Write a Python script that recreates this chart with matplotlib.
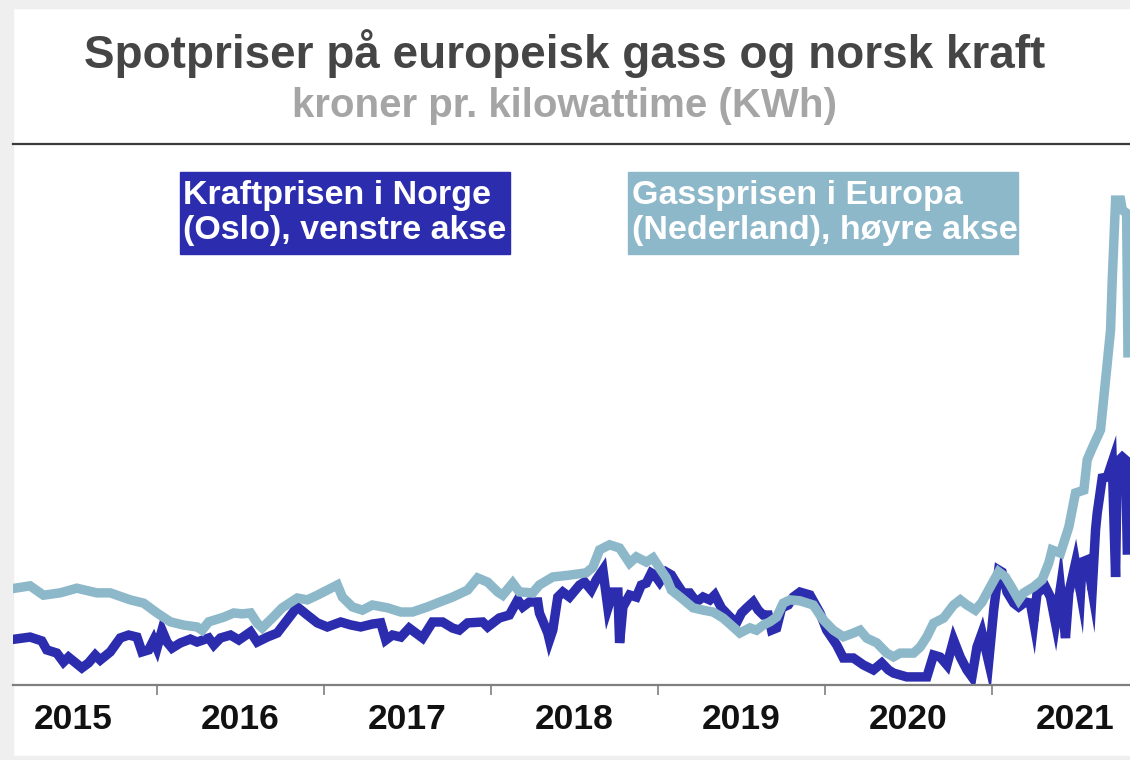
import matplotlib
matplotlib.use("Agg")
import matplotlib.pyplot as plt
from matplotlib.patches import Rectangle

plt.rcParams['font.family'] = ['Liberation Sans', 'DejaVu Sans']

# ---- data (decimal years, kroner per kWh) ----
power_t = [2015.15, 2015.24, 2015.31, 2015.34, 2015.40, 2015.44, 2015.47, 2015.55, 2015.59, 2015.63,
           2015.66, 2015.72, 2015.78, 2015.83, 2015.88, 2015.91, 2015.95, 2015.98, 2016.00, 2016.03,
           2016.06, 2016.09, 2016.14, 2016.20, 2016.24, 2016.31, 2016.34, 2016.38, 2016.44, 2016.49,
           2016.56, 2016.60, 2016.66, 2016.72, 2016.78, 2016.84, 2016.90, 2016.96, 2017.02, 2017.10,
           2017.16, 2017.22, 2017.29, 2017.34, 2017.37, 2017.41, 2017.46, 2017.51, 2017.59, 2017.65,
           2017.71, 2017.77, 2017.81, 2017.86, 2017.95, 2017.98, 2018.05, 2018.11, 2018.16, 2018.19,
           2018.23, 2018.28, 2018.29, 2018.34, 2018.35, 2018.37, 2018.40, 2018.43, 2018.47, 2018.53,
           2018.56, 2018.60, 2018.63, 2018.67, 2018.70, 2018.73, 2018.76, 2018.77, 2018.79, 2018.83,
           2018.87, 2018.90, 2018.93, 2018.96, 2018.98, 2019.01, 2019.05, 2019.08, 2019.11, 2019.15,
           2019.19, 2019.23, 2019.27, 2019.31, 2019.34, 2019.38, 2019.42, 2019.45, 2019.47, 2019.50,
           2019.53, 2019.57, 2019.60, 2019.63, 2019.66, 2019.68, 2019.71, 2019.74, 2019.78, 2019.81,
           2019.85, 2019.91, 2019.97, 2020.01, 2020.07, 2020.11, 2020.17, 2020.23, 2020.29, 2020.34,
           2020.38, 2020.41, 2020.49, 2020.57, 2020.61, 2020.65, 2020.69, 2020.73, 2020.77, 2020.81,
           2020.85, 2020.88, 2020.91, 2020.94, 2020.98, 2021.01, 2021.04, 2021.06, 2021.09, 2021.13,
           2021.16, 2021.20, 2021.23, 2021.25, 2021.27, 2021.32, 2021.35, 2021.38, 2021.41, 2021.44,
           2021.46, 2021.50, 2021.53, 2021.54, 2021.57, 2021.60, 2021.62, 2021.63, 2021.66, 2021.69,
           2021.72, 2021.74, 2021.75, 2021.78, 2021.80, 2021.81]
power_oslo = [0.204, 0.213, 0.196, 0.156, 0.142, 0.102, 0.124, 0.076, 0.098, 0.133,
              0.111, 0.147, 0.209, 0.222, 0.213, 0.147, 0.156, 0.200, 0.164, 0.244,
              0.191, 0.164, 0.187, 0.204, 0.191, 0.209, 0.178, 0.209, 0.222, 0.200,
              0.236, 0.191, 0.213, 0.231, 0.289, 0.347, 0.311, 0.276, 0.258, 0.280,
              0.267, 0.258, 0.271, 0.276, 0.200, 0.222, 0.213, 0.253, 0.209, 0.280,
              0.280, 0.253, 0.244, 0.276, 0.280, 0.258, 0.298, 0.311, 0.378, 0.347,
              0.369, 0.369, 0.320, 0.231, 0.200, 0.244, 0.391, 0.413, 0.391, 0.444,
              0.458, 0.422, 0.467, 0.511, 0.342, 0.413, 0.413, 0.187, 0.347, 0.400,
              0.391, 0.444, 0.453, 0.498, 0.489, 0.458, 0.502, 0.489, 0.453, 0.409,
              0.409, 0.369, 0.391, 0.378, 0.400, 0.342, 0.311, 0.289, 0.276, 0.320,
              0.342, 0.369, 0.333, 0.311, 0.311, 0.244, 0.253, 0.342, 0.356, 0.391,
              0.413, 0.400, 0.320, 0.244, 0.178, 0.120, 0.120, 0.089, 0.067, 0.098,
              0.067, 0.053, 0.036, 0.036, 0.036, 0.133, 0.124, 0.089, 0.200, 0.124,
              0.067, 0.036, 0.169, 0.231, 0.102, 0.333, 0.511, 0.502, 0.413, 0.364,
              0.347, 0.369, 0.364, 0.280, 0.409, 0.436, 0.391, 0.276, 0.431, 0.209,
              0.409, 0.542, 0.413, 0.547, 0.556, 0.422, 0.689, 0.764, 0.920, 0.924,
              0.991, 0.480, 0.991, 1.013, 1.000, 0.600]

gas_t = [2015.15, 2015.24, 2015.32, 2015.42, 2015.52, 2015.64, 2015.72, 2015.84, 2015.92, 2016.00,
         2016.08, 2016.16, 2016.24, 2016.27, 2016.31, 2016.40, 2016.46, 2016.51, 2016.56, 2016.60,
         2016.63, 2016.69, 2016.75, 2016.84, 2016.90, 2016.96, 2017.02, 2017.08, 2017.11, 2017.17,
         2017.23, 2017.29, 2017.38, 2017.46, 2017.53, 2017.62, 2017.69, 2017.77, 2017.86, 2017.92,
         2017.98, 2018.04, 2018.07, 2018.13, 2018.17, 2018.25, 2018.29, 2018.37, 2018.47, 2018.57,
         2018.61, 2018.65, 2018.71, 2018.77, 2018.83, 2018.87, 2018.93, 2018.97, 2019.01, 2019.05,
         2019.08, 2019.14, 2019.21, 2019.27, 2019.33, 2019.39, 2019.45, 2019.49, 2019.55, 2019.59,
         2019.63, 2019.67, 2019.71, 2019.75, 2019.79, 2019.85, 2019.93, 2019.99, 2020.05, 2020.11,
         2020.17, 2020.21, 2020.25, 2020.31, 2020.37, 2020.41, 2020.45, 2020.53, 2020.57, 2020.61,
         2020.65, 2020.71, 2020.77, 2020.81, 2020.85, 2020.90, 2020.94, 2020.99, 2021.04, 2021.08,
         2021.12, 2021.16, 2021.19, 2021.25, 2021.30, 2021.34, 2021.36, 2021.41, 2021.46, 2021.50,
         2021.55, 2021.57, 2021.60, 2021.65, 2021.68, 2021.71, 2021.72, 2021.74, 2021.77, 2021.78,
         2021.806, 2021.814]
gas_nl = [0.203, 0.208, 0.188, 0.193, 0.203, 0.193, 0.193, 0.178, 0.171, 0.150,
          0.131, 0.124, 0.120, 0.113, 0.131, 0.141, 0.150, 0.148, 0.150, 0.128,
          0.118, 0.139, 0.161, 0.182, 0.178, 0.188, 0.199, 0.210, 0.184, 0.163,
          0.156, 0.167, 0.161, 0.152, 0.152, 0.163, 0.173, 0.184, 0.199, 0.225,
          0.216, 0.195, 0.188, 0.214, 0.195, 0.193, 0.210, 0.227, 0.231, 0.236,
          0.248, 0.285, 0.296, 0.289, 0.257, 0.270, 0.259, 0.268, 0.246, 0.225,
          0.199, 0.182, 0.161, 0.156, 0.152, 0.139, 0.120, 0.107, 0.118, 0.113,
          0.124, 0.131, 0.141, 0.171, 0.178, 0.176, 0.167, 0.135, 0.113, 0.099,
          0.107, 0.113, 0.096, 0.086, 0.064, 0.056, 0.064, 0.064, 0.077, 0.099,
          0.128, 0.139, 0.167, 0.178, 0.167, 0.156, 0.173, 0.206, 0.238, 0.227,
          0.203, 0.178, 0.193, 0.206, 0.221, 0.257, 0.285, 0.278, 0.334, 0.407,
          0.413, 0.478, 0.503, 0.542, 0.649, 0.756, 0.863, 1.034, 1.034, 1.013,
          1.006, 0.707]

year_ticks = [2016, 2017, 2018, 2019, 2020, 2021]
year_labels = ['2015', '2016', '2017', '2018', '2019', '2020', '2021']
label_pos = [2015.5, 2016.5, 2017.5, 2018.5, 2019.5, 2020.5, 2021.5]

title = 'Spotpriser på europeisk gass og norsk kraft'
subtitle = 'kroner pr. kilowattime (KWh)'
legend_power = 'Kraftprisen i Norge\n(Oslo), venstre akse'
legend_gas = 'Gassprisen i Europa\n(Nederland), høyre akse'

C_POWER = '#2C2CAE'
C_GAS = '#8DB8CA'

W, H = 1130, 760
fig = plt.figure(figsize=(W / 100, H / 100), dpi=100)
fig.patch.set_facecolor('white')

# light grey frame remnants of screenshot
fig.add_artist(Rectangle((0, 0), 13 / W, 1, transform=fig.transFigure, color='#efefef', zorder=0))
fig.add_artist(Rectangle((0, 1 - 8 / H), 1, 8 / H, transform=fig.transFigure, color='#efefef', zorder=0))
fig.add_artist(Rectangle((0, 0), 1, 4 / H, transform=fig.transFigure, color='#efefef', zorder=0))

ax_left, ax_bottom = 13 / W, 75 / H
ax_w, ax_h = 1 - ax_left, (685 - 144) / H
ax = fig.add_axes([ax_left, ax_bottom, ax_w, ax_h])
ax2 = ax.twinx()

ax.plot(power_t, power_oslo, color=C_POWER, lw=6.8, solid_joinstyle='miter', zorder=2)
ax2.plot(gas_t, gas_nl, color=C_GAS, lw=6.8, solid_joinstyle='miter', zorder=3)

xmin = 2016 - 144 / 167
xmax = 2016 + 973 / 167
ax.set_xlim(xmin, xmax)
ax.set_ylim(0, 541 / 225)
ax2.set_ylim(-2 / 467, 539 / 467)

for a in (ax, ax2):
    for s in ('left', 'right', 'top', 'bottom'):
        a.spines[s].set_visible(False)
    a.set_yticks([])
    a.patch.set_visible(False)
ax.spines['bottom'].set_visible(True)
ax.spines['bottom'].set_color('#7f7f7f')
ax.spines['bottom'].set_linewidth(1.6)
ax.spines['top'].set_visible(True)
ax.spines['top'].set_color('#3a3a3a')
ax.spines['top'].set_linewidth(1.6)

ax.set_xticks(year_ticks)
ax.set_xticklabels([])
ax.tick_params(axis='x', which='major', direction='out', length=7, width=1.2, color='#7f7f7f')
ax.set_xticks(label_pos, minor=True)
ax.set_xticklabels(year_labels, minor=True, fontsize=25.5, fontweight='bold', color='#111111')
ax.tick_params(axis='x', which='minor', length=0, pad=13)

fig.text(0.5, 1 - 54 / H, title, ha='center', va='center', fontsize=33,
         fontweight='bold', color='#454545')
fig.text(0.5, 1 - 106 / H, subtitle, ha='center', va='center', fontsize=29,
         fontweight='bold', color='#a5a5a5')

# legend label boxes
fig.add_artist(Rectangle((180 / W, 1 - 254 / H), 330 / W, 82 / H,
                         transform=fig.transFigure, color=C_POWER, zorder=4))
fig.add_artist(Rectangle((628 / W, 1 - 254 / H), 390 / W, 82 / H,
                         transform=fig.transFigure, color=C_GAS, zorder=4))
fig.text(183 / W, 1 - 213 / H, legend_power, ha='left', va='center', fontsize=24.5,
         fontweight='bold', color='white', linespacing=1.2, zorder=5)
fig.text(632 / W, 1 - 213 / H, legend_gas, ha='left', va='center', fontsize=24.5,
         fontweight='bold', color='white', linespacing=1.2, zorder=5)

fig.savefig('out.png', dpi=100)
